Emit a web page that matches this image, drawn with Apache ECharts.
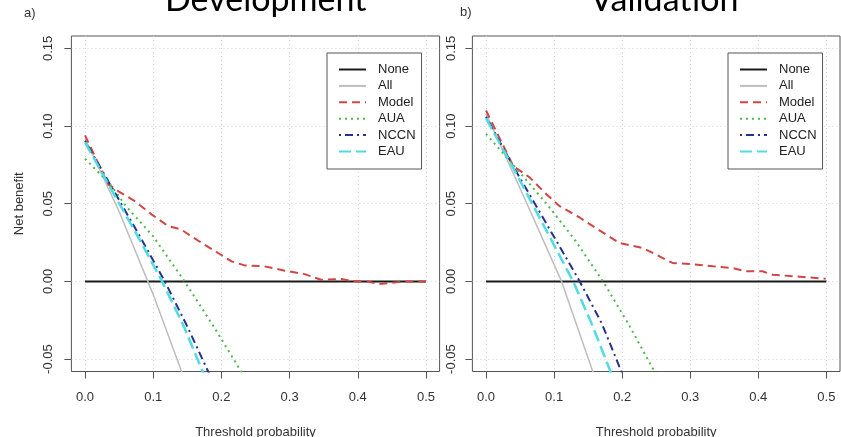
<!DOCTYPE html>
<html>
<head>
<meta charset="utf-8">
<title>Decision curves</title>
<script src="https://cdn.jsdelivr.net/npm/echarts@6/dist/echarts.min.js"></script>
<style>
  html, body { margin: 0; padding: 0; background: #fff; }
  #chart { width: 841px; height: 437px; }
</style>
</head>
<body>
<div id="chart"></div>
<script>
// Threshold probability ticks and net benefit ticks
const xTicks = [0, 0.1, 0.2, 0.3, 0.4, 0.5];
const yTicks = [-0.05, 0, 0.05, 0.1, 0.15];
const strategies = ['None', 'All', 'Model', 'AUA', 'NCCN', 'EAU'];
const panelTitles = ['Development', 'Validation'];
const panelTags = ['a)', 'b)'];

// Development cohort: [threshold, net benefit]
const devNone = [[0, 0], [0.5, 0]];
const devAll = [[0, 0.092], [0.05, 0.045], [0.1, -0.0085], [0.15, -0.068]];
const devModel = [[0, 0.094], [0.034, 0.0625], [0.049, 0.058], [0.073, 0.0517], [0.098, 0.043],
  [0.122, 0.0356], [0.141, 0.0334], [0.156, 0.029], [0.171, 0.0248], [0.195, 0.0183],
  [0.215, 0.0129], [0.234, 0.0103], [0.263, 0.0097], [0.293, 0.0069], [0.322, 0.0047],
  [0.346, 0.0011], [0.376, 0.0015], [0.39, 0.0004], [0.415, 0], [0.43, -0.0017],
  [0.449, -0.001], [0.468, 0], [0.5, 0]];
const devAUA = [[0, 0.079], [0.037, 0.0625], [0.06, 0.0485], [0.1, 0.029], [0.146, 0],
  [0.19, -0.03], [0.24, -0.066]];
const devNCCN = [[0, 0.0905], [0.04, 0.06], [0.08, 0.0293], [0.117, 0], [0.15, -0.029], [0.19, -0.067]];
const devEAU = [[0, 0.0895], [0.04, 0.058], [0.08, 0.027], [0.113, 0], [0.145, -0.029], [0.18, -0.066]];

// Validation cohort: [threshold, net benefit]
const valNone = [[0, 0], [0.5, 0]];
const valAll = [[0, 0.108], [0.05, 0.06], [0.111, 0], [0.16, -0.062]];
const valModel = [[0, 0.11], [0.04, 0.0743], [0.0645, 0.0668], [0.089, 0.056], [0.108, 0.0485],
  [0.138, 0.041], [0.157, 0.0356], [0.177, 0.03], [0.196, 0.0248], [0.211, 0.0233],
  [0.23, 0.0215], [0.25, 0.0172], [0.274, 0.0119], [0.299, 0.0112], [0.333, 0.0097],
  [0.362, 0.0086], [0.382, 0.0065], [0.406, 0.0065], [0.421, 0.0043], [0.455, 0.0032],
  [0.499, 0.0017]];
const valAUA = [[0, 0.095], [0.04, 0.075], [0.089, 0.05], [0.13, 0.027], [0.172, 0],
  [0.21, -0.028], [0.26, -0.068]];
const valNCCN = [[0, 0.106], [0.04, 0.074], [0.089, 0.037], [0.1377, 0], [0.17, -0.027], [0.21, -0.07]];
const valEAU = [[0, 0.105], [0.04, 0.073], [0.08, 0.04], [0.128, 0], [0.155, -0.027], [0.19, -0.066]];

const panels = [
  [devNone, devAll, devModel, devAUA, devNCCN, devEAU],
  [valNone, valAll, valModel, valAUA, valNCCN, valEAU]
];

// line look per strategy (R style lty equivalents)
const looks = {
  None:  { color: '#1a1a1a', width: 2,   type: 'solid' },
  All:   { color: '#bdbdbd', width: 1.5, type: 'solid' },
  Model: { color: '#d34545', width: 2,   type: [8, 5] },
  AUA:   { color: '#4cb84c', width: 2,   type: [2, 4] },
  NCCN:  { color: '#27308c', width: 2,   type: [2, 4, 8, 4] },
  EAU:   { color: '#4fdce2', width: 2.5, type: [12, 5] }
};

const FONT = 'Liberation Sans, Arial, sans-serif';
const grids = [
  { left: 71.4, top: 36, width: 368.2, height: 335.5 },
  { left: 472.4, top: 36, width: 367.6, height: 335.5 }
];

const xAxes = grids.map((g, i) => ({
  gridIndex: i, type: 'value', min: -0.02, max: 0.52,
  name: 'Threshold probability', nameLocation: 'middle', nameGap: 54,
  nameTextStyle: { fontFamily: FONT, fontSize: 13, color: '#333' },
  axisLine: { show: false, onZero: false },
  axisTick: { show: true, length: 7, customValues: xTicks, lineStyle: { color: '#555' } },
  axisLabel: { customValues: xTicks, margin: 19, fontFamily: FONT, fontSize: 13, color: '#333',
    formatter: v => v.toFixed(1) },
  splitLine: { show: true, lineStyle: { color: '#d3d3d3', type: [1, 3], width: 1 } }
}));

const yAxes = grids.map((g, i) => ({
  gridIndex: i, type: 'value', min: -0.058, max: 0.158,
  name: i === 0 ? 'Net benefit' : '', nameLocation: 'middle', nameGap: 45, nameRotate: 90,
  nameTextStyle: { fontFamily: FONT, fontSize: 13, color: '#333' },
  axisLine: { show: false, onZero: false },
  axisTick: { show: true, length: 7, customValues: yTicks, lineStyle: { color: '#555' } },
  axisLabel: { customValues: yTicks, rotate: 90, margin: i === 0 ? 16 : 14, fontFamily: FONT, fontSize: 13,
    color: '#333', formatter: v => v.toFixed(2) },
  splitLine: { show: true, lineStyle: { color: '#d3d3d3', type: [1, 3], width: 1 } }
}));

const series = [];
panels.forEach((sets, p) => {
  sets.forEach((data, k) => {
    const name = strategies[k];
    const lk = looks[name];
    series.push({
      name, type: 'line', xAxisIndex: p, yAxisIndex: p, data,
      symbol: 'none', clip: true, smooth: false,
      lineStyle: { color: lk.color, width: lk.width, type: lk.type },
      itemStyle: { color: lk.color },
      emphasis: { disabled: true }
    });
  });
});

const legendLefts = [327, 728];
const legends = legendLefts.map(l => ({
  left: l, top: 53, orient: 'vertical', data: strategies, selectedMode: false,
  itemWidth: 27, itemHeight: 14, itemGap: 3.4,
  padding: [10, 6, 11, 11],
  borderColor: '#555', borderWidth: 1, backgroundColor: '#fff',
  itemStyle: { color: 'transparent', borderWidth: 0, opacity: 0 },
  textStyle: { fontFamily: FONT, fontSize: 13, color: '#222', padding: [0, 0, 0, 7] }
}));

const chart = echarts.init(document.getElementById('chart'), null, { renderer: 'canvas' });
chart.setOption({
  animation: false,
  backgroundColor: '#fff',
  grid: grids.map(g => Object.assign({ show: true, borderColor: '#555', borderWidth: 1,
    backgroundColor: 'transparent', containLabel: false, outerBoundsMode: 'none' }, g)),
  xAxis: xAxes,
  yAxis: yAxes,
  legend: legends,
  series,
  graphic: [
    { type: 'text', left: 266 - 101, top: -17, style: { text: panelTitles[0], font: '34px Lato', fill: '#000' } },
    { type: 'text', left: 665 - 75, top: -17, style: { text: panelTitles[1], font: '34px Lato', fill: '#000' } },
    { type: 'text', left: 24, top: 7, style: { text: panelTags[0], font: '13px ' + FONT, fill: '#333' } },
    { type: 'text', left: 460, top: 6, style: { text: panelTags[1], font: '13px ' + FONT, fill: '#333' } }
  ]
});
</script>
</body>
</html>
